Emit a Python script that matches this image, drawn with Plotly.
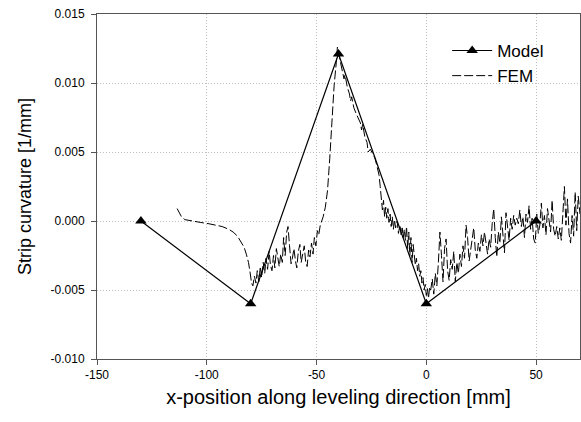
import plotly.graph_objects as go

# Model data
model_x = [-130, -80, -40, 0, 50]
model_y = [0.0, -0.006, 0.0121, -0.006, 0.0]

# FEM data
fem_x = [
    -113.5, -112.5, -111.5, -110, -107, -103, -99, -96, -93, -90, -88, -86, -84.5, -83, -82, -81, -80.3, -79.6,
    -79, -78.3, -77.6, -77, -76.3, -75.6, -75, -74.3, -73.6, -73, -72.3, -71.6, -71, -70.3, -69.6, -69,
    -68.3, -67.6, -67, -66.3, -65.6, -65, -64.3, -63.6, -63, -62.3, -61.6, -61, -60.3, -59.6, -59, -58.3,
    -57.6, -57, -56.3, -55.6, -55, -54.3, -53.6, -53, -52.3, -51.6, -51, -50.3, -49.6, -49, -48.3, -47.6,
    -47, -46, -45, -44, -43, -42, -41, -40.5,
    -39.5, -38.5, -37.5, -37, -36, -35, -34.5, -34, -33, -32, -31, -30, -29.5, -29, -28, -27, -26.5,
    -25.5, -24.5, -23.5, -22.5, -21.5, -21,
    -20.5, -20, -19.5, -19, -18.5, -18, -17.5, -17, -16.5, -16, -15.5, -15, -14.5, -14, -13.3, -12.7,
    -12, -11.5, -11, -10.5, -10, -9.5, -9, -8.5, -8, -7.5, -7, -6.5, -6, -5.5, -5, -4.5, -4, -3.5, -3,
    -2.5, -2, -1.5, -1, -0.5, 0, 0.5, 1, 1.5,
    2.0, 2.7, 3.4, 4.1, 4.8, 5.5, 6.2, 6.9, 7.6, 8.3, 9.0, 9.7, 10.4, 11.1, 11.8, 12.5, 13.2, 13.9,
    14.6, 15.3, 16.0, 16.7, 17.4, 18.1, 18.8, 19.5, 20.2, 20.9, 21.6, 22.3, 23.0, 23.7, 24.4, 25.1,
    25.8, 26.5, 27.2, 27.9, 28.6, 29.3, 30.0, 30.7, 31.4, 32.1, 32.8, 33.5, 34.2, 34.9, 35.6, 36.3,
    37.0, 37.7, 38.4, 39.1, 39.8, 40.5, 41.2, 41.9, 42.6, 43.3, 44.0, 44.7, 45.4, 46.1, 46.8, 47.5,
    48.2, 48.9, 49.6, 50.3, 51.0, 51.7, 52.4, 53.1, 53.8, 54.5, 55.2, 55.9, 56.6, 57.3, 58.0, 58.7,
    59.4, 60.1, 60.8, 61.5, 62.2, 62.9, 63.6, 64.3, 65.0, 65.7, 66.4, 67.1, 67.8, 68.5, 69.2, 70.0,
]
fem_y = [
    0.0009, 0.0006, 0.0003, 0.0001, 0.0000, -0.0001, -0.0002, -0.0003, -0.0004, -0.0006, -0.0008, -0.0011, -0.0015, -0.0019, -0.0024, -0.0030, -0.0037, -0.0045,
    -0.0047, -0.0040, -0.0045, -0.0036, -0.0044, -0.0033, -0.0041, -0.0030, -0.0038, -0.0027, -0.0035, -0.0022, -0.0032, -0.0036, -0.0025, -0.0034,
    -0.0020, -0.0028, -0.0033, -0.0024, -0.0030, -0.0012, -0.0025, -0.0008, -0.0004, -0.0018, -0.0031, -0.0027, -0.0020, -0.0029, -0.0034, -0.0022,
    -0.0017, -0.0030, -0.0025, -0.0018, -0.0029, -0.0033, -0.0021, -0.0026, -0.0016, -0.0024, -0.0012, -0.0018, -0.0007, -0.0010, -0.0003, 0.0000,
    0.0003, 0.0010, 0.0022, 0.0045, 0.0072, 0.0098, 0.0115, 0.0126,
    0.0118, 0.0110, 0.0103, 0.0106, 0.0097, 0.0092, 0.0087, 0.0090, 0.0082, 0.0078, 0.0074, 0.0071, 0.0066, 0.0070, 0.0061, 0.0057, 0.0050,
    0.0052, 0.0049, 0.0046, 0.0040, 0.0033, 0.0025,
    0.0018, 0.0008, 0.0015, 0.0003, 0.0010, 0.0002, 0.0009, -0.0001, 0.0005, -0.0004, 0.0003, -0.0006, 0.0001, -0.0005, 0.0000, -0.0009,
    -0.0003, -0.0010, -0.0005, -0.0012, -0.0006, -0.0014, -0.0004, -0.0020, -0.0008, -0.0025, -0.0012, -0.0030, -0.0017, -0.0024, -0.0032, -0.0027, -0.0036, -0.0031, -0.0040,
    -0.0036, -0.0045, -0.0041, -0.0050, -0.0046, -0.0054, -0.0049, -0.0056, -0.0048,
    -0.0050, -0.0042, -0.0053, -0.0038, -0.0047, -0.0030, -0.0008, -0.0025, -0.0044, -0.0020, -0.0013, -0.0036, -0.0043, -0.0028, -0.0035, -0.0022, -0.0044, -0.0030,
    -0.0038, -0.0024, -0.0033, -0.0018, -0.0027, -0.0003, -0.0012, -0.0029, -0.0020, -0.0011, -0.0005, -0.0021, -0.0027, -0.0016, -0.0022, -0.0010,
    -0.0018, -0.0008, -0.0015, -0.0024, -0.0013, -0.0019, -0.0002, 0.0009, -0.0012, -0.0026, -0.0008, -0.0016, 0.0003, -0.0010, -0.0023, 0.0006,
    -0.0004, -0.0014, 0.0002, -0.0006, 0.0004, -0.0003, 0.0002, -0.0002, 0.0008, -0.0004, 0.0003, -0.0012, 0.0005, -0.0001, 0.0011, -0.0006,
    0.0002, -0.0013, -0.0016, 0.0005, -0.0009, -0.0003, 0.0013, -0.0005, 0.0004, -0.0010, 0.0009, -0.0002, -0.0008, 0.0015, -0.0006, -0.0011,
    -0.0004, -0.0013, -0.0005, -0.0014, 0.0009, 0.0025, -0.0003, 0.0016, -0.0009, -0.0016, 0.0004, -0.0011, 0.0021, -0.0007, 0.0018, 0.0005,
]

x_ticks = [-150, -100, -50, 0, 50]
x_tick_labels = ["-150", "-100", "-50", "0", "50"]
y_ticks = [-0.010, -0.005, 0.0, 0.005, 0.010, 0.015]
y_tick_labels = ["-0.010", "-0.005", "0.000", "0.005", "0.010", "0.015"]

FONT = "Liberation Sans, Arial, sans-serif"

fig = go.Figure()
fig.add_trace(go.Scatter(
    x=model_x, y=model_y, mode="lines+markers", name="Model",
    line=dict(color="black", width=1.2),
    marker=dict(symbol="triangle-up", size=10, color="black"),
))
fig.add_trace(go.Scatter(
    x=fem_x, y=fem_y, mode="lines", name="FEM",
    line=dict(color="black", width=1, dash="9px,3px"),
))

axis_common = dict(
    showline=True, linecolor="#555555", linewidth=1, mirror=True,
    ticks="outside", ticklen=5, tickcolor="#555555",
    showgrid=True, gridcolor="#bdbdbd", griddash="1px,2px", gridwidth=1,
    zeroline=False, tickfont=dict(family=FONT, size=12, color="black"),
)

fig.update_xaxes(
    range=[-150, 70], tickvals=x_ticks, ticktext=x_tick_labels,
    title=dict(text="x-position along leveling direction [mm]",
               font=dict(family=FONT, size=20, color="black"), standoff=8),
    **axis_common,
)
fig.update_yaxes(
    range=[-0.010, 0.015], tickvals=y_ticks, ticktext=y_tick_labels,
    ticklabelstandoff=4,
    title=dict(text="Strip curvature [1/mm]",
               font=dict(family=FONT, size=18, color="black"), standoff=14),
    **axis_common,
)

fig.update_layout(
    width=581, height=422,
    margin=dict(l=97, r=1, t=14, b=63),
    plot_bgcolor="white", paper_bgcolor="white",
    showlegend=True,
    legend=dict(x=0.725, y=0.945, xanchor="left", yanchor="top",
                font=dict(family=FONT, size=17, color="black"),
                bgcolor="rgba(0,0,0,0)", tracegroupgap=0, itemwidth=40),
    font=dict(family=FONT),
)

fig.write_html("out.html")
